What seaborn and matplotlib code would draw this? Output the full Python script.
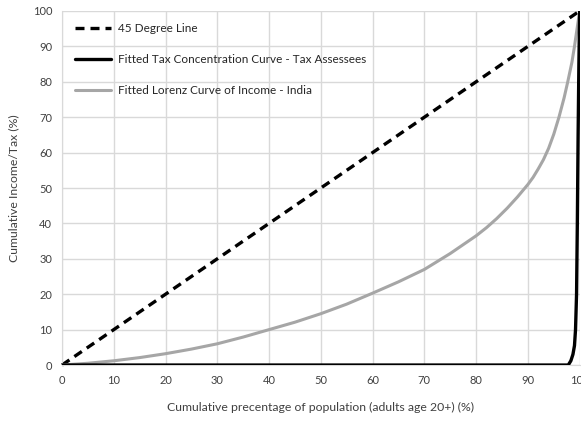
import numpy as np
import pandas as pd
import matplotlib
matplotlib.use("Agg")
import matplotlib.pyplot as plt
import seaborn as sns

# Du lieu doc tu hinh goc
diag_x = [0, 100]
diag_y = [0, 100]

lorenz_x = [0, 5, 10, 15, 20, 25, 30, 35, 40, 45, 50, 55, 60, 65, 70, 75, 80,
            82, 84, 86, 88, 90, 91, 92, 93, 94, 95, 96, 97, 97.7, 98.5, 99, 99.5, 100]
lorenz_y = [0, 0.5, 1.2, 2.1, 3.2, 4.5, 6, 7.9, 10, 12.1, 14.5, 17.2, 20.3, 23.5, 27, 31.5, 36.5,
            38.8, 41.4, 44.3, 47.5, 51, 53, 55.4, 58, 61.2, 65.2, 70, 75.5, 80, 85.5, 90, 95, 100]

tax_x = [0, 97.8, 98.3, 98.7, 99.0, 99.2, 99.4, 99.55, 99.7, 99.85, 100]
tax_y = [0, 0, 1.2, 3, 5.5, 10, 20, 40, 65, 85, 100]

labels = ["45 Degree Line",
          "Fitted Tax Concentration Curve - Tax Assessees",
          "Fitted Lorenz Curve of Income - India"]

ticks = list(range(0, 101, 10))

sns.set_style("white")
plt.rcParams['font.family'] = ['Lato', 'DejaVu Sans']

fig = plt.figure(figsize=(5.81, 4.22), dpi=100)
ax = fig.add_axes([0.1067, 0.135, 0.891, 0.839])

sns.lineplot(x=diag_x, y=diag_y, ax=ax, color="black", linewidth=2.4,
             linestyle=(0, (2.7, 1.8)), label=labels[0], clip_on=False)
sns.lineplot(x=tax_x, y=tax_y, ax=ax, color="black", linewidth=2.4,
             label=labels[1], sort=False, zorder=4)
sns.lineplot(x=lorenz_x, y=lorenz_y, ax=ax, color="#a6a6a6", linewidth=2.2,
             label=labels[2], zorder=3)

ax.set_xlim(0, 100)
ax.set_ylim(0, 100)
ax.set_xticks(ticks)
ax.set_yticks(ticks)
ax.grid(True, color="#d9d9d9", linewidth=1)
ax.set_axisbelow(True)
for side in ["top", "right"]:
    ax.spines[side].set_visible(False)
for side in ["left", "bottom"]:
    ax.spines[side].set_color("#d9d9d9")
ax.tick_params(axis="both", length=0, labelsize=8, colors="#404040", pad=7)

ax.set_xlabel("Cumulative precentage of population (adults age 20+) (%)",
              fontsize=8.8, color="#404040", labelpad=12)
ax.set_ylabel("Cumulative Income/Tax (%)", fontsize=8.8, color="#404040", labelpad=10)

leg = ax.legend(loc="upper left", frameon=False, fontsize=8.5, handlelength=3.0,
                handletextpad=0.6, labelspacing=1.7, borderaxespad=0.3,
                bbox_to_anchor=(0.01, 0.99))
for t in leg.get_texts():
    t.set_color("#262626")

plt.savefig("out.png", dpi=100)
